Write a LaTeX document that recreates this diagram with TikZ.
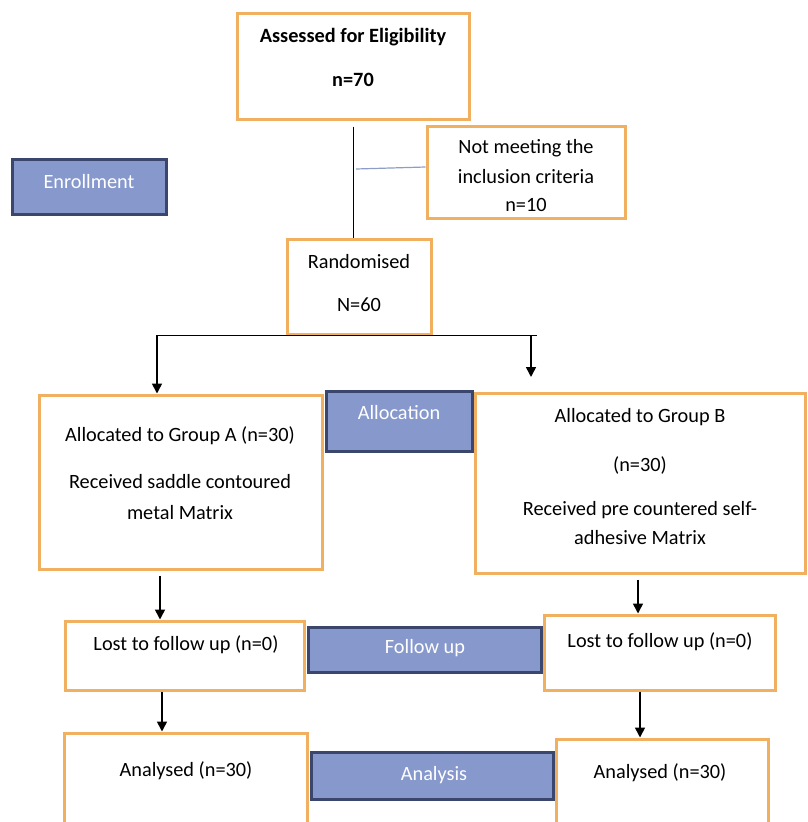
\documentclass[tikz,border=0pt]{standalone}
\usepackage{fontspec}
\setmainfont{Carlito}
\usetikzlibrary{arrows.meta}
\definecolor{orng}{RGB}{240,176,96}
\definecolor{bfill}{RGB}{134,152,204}
\definecolor{bdraw}{RGB}{58,70,108}
\definecolor{stub}{RGB}{140,158,200}
\tikzset{
  obox/.style={draw=orng,line width=3pt,fill=white,inner sep=0pt},
  bbox/.style={draw=bdraw,line width=3pt,fill=bfill,inner sep=0pt},
  txt/.style={inner sep=0pt,font=\fontsize{20.3}{23}\selectfont,text=black},
  wtxt/.style={inner sep=0pt,font=\fontsize{20.3}{23}\selectfont,text=white},
  arr/.style={line width=1.6pt,-{Triangle[length=10pt,width=10pt]}},
  ln/.style={line width=1pt,black}
}
\begin{document}
\begin{tikzpicture}[x=1pt,y=-1pt]
\useasboundingbox (0,0) rectangle (807,822);
% boxes
\node[obox,minimum width=232,minimum height=106] (assess) at (353,66) {};
\node[obox,minimum width=198,minimum height=92] (notmeet) at (526,172) {};
\node[bbox,minimum width=154,minimum height=55] (enroll) at (89,186.5) {};
\node[obox,minimum width=144,minimum height=95] (rand) at (359,286.5) {};
\node[obox,minimum width=283,minimum height=174] (gA) at (180.5,482) {};
\node[obox,minimum width=330,minimum height=180] (gB) at (640,483) {};
\node[bbox,minimum width=146,minimum height=60] (alloc) at (399,421) {};
\node[obox,minimum width=239,minimum height=69] (lostA) at (184.5,655.5) {};
\node[bbox,minimum width=233,minimum height=45] (follow) at (424.5,649.5) {};
\node[obox,minimum width=231,minimum height=75] (lostB) at (659.5,652.5) {};
\node[obox,minimum width=243,minimum height=107] (anA) at (185.5,786.5) {};
\node[bbox,minimum width=242,minimum height=47] (analysis) at (432,775.5) {};
\node[obox,minimum width=212,minimum height=101] (anB) at (662,789.5) {};
% texts
\node[txt,font=\fontsize{20.3}{23}\selectfont\bfseries] (t1) at (353,37) {Assessed for Eligibility};
\node[txt,font=\fontsize{20.3}{23}\selectfont\bfseries] (t2) at (353,80) {n=70};
\node[txt] (t3) at (526,148) {Not meeting the};
\node[txt] (t4) at (526,177) {inclusion criteria};
\node[txt] (t5) at (526,205) {n=10};
\node[wtxt] (t6) at (89,182) {Enrollment};
\node[txt] (t7) at (359,262) {Randomised};
\node[txt] (t8) at (359,305) {N=60};
\node[wtxt] (t9) at (399,413) {Allocation};
\node[txt] (t10) at (180,436) {Allocated to Group A (n=30)};
\node[txt] (t11) at (180,482) {Received saddle contoured};
\node[txt] (t12) at (180,513) {metal Matrix};
\node[txt] (t13) at (640,417) {Allocated to Group B};
\node[txt] (t14) at (640,465) {(n=30)};
\node[txt] (t15) at (640,510) {Received pre countered self-};
\node[txt] (t16) at (640,538) {adhesive Matrix};
\node[txt] (t17) at (186,645) {Lost to follow up (n=0)};
\node[wtxt] (t18) at (425,648) {Follow up};
\node[txt] (t19) at (660,642) {Lost to follow up (n=0)};
\node[txt] (t20) at (186,771) {Analysed (n=30)};
\node[wtxt] (t21) at (434,775) {Analysis};
\node[txt] (t22) at (660,773) {Analysed (n=30)};
% connectors
\coordinate (vx) at (353,0);
\coordinate (lx) at (157,0);
\coordinate (rx) at (531,0);
\coordinate (rend) at (537,335);
\coordinate (lend) at (157,335);
\coordinate (stubL) at (356,169);
\coordinate (ax) at (160,0);
\coordinate (bx) at (638,0);
\coordinate (ax2) at (162,0);
\coordinate (bx2) at (640,0);
\coordinate (rtip) at (531,377);
\draw[ln,shorten <=6pt] (assess.south -| vx) -- (rand.north -| vx);
\draw[stub,line width=1.2pt] (stubL) -- (notmeet.west |- 0,167);
\draw[ln] (lend) -- (rend);
\draw[arr] (lend) -- (gA.north -| lx);
\draw[arr] (rend -| rx) -- (rtip);
\draw[arr,shorten <=5pt] (gA.south -| ax) -- (lostA.north -| ax);
\draw[arr,shorten <=5pt] (gB.south -| bx) -- (lostB.north -| bx);
\draw[arr] (lostA.south -| ax2) -- (anA.north -| ax2);
\draw[arr] (lostB.south -| bx2) -- (anB.north -| bx2);
\end{tikzpicture}
\end{document}
